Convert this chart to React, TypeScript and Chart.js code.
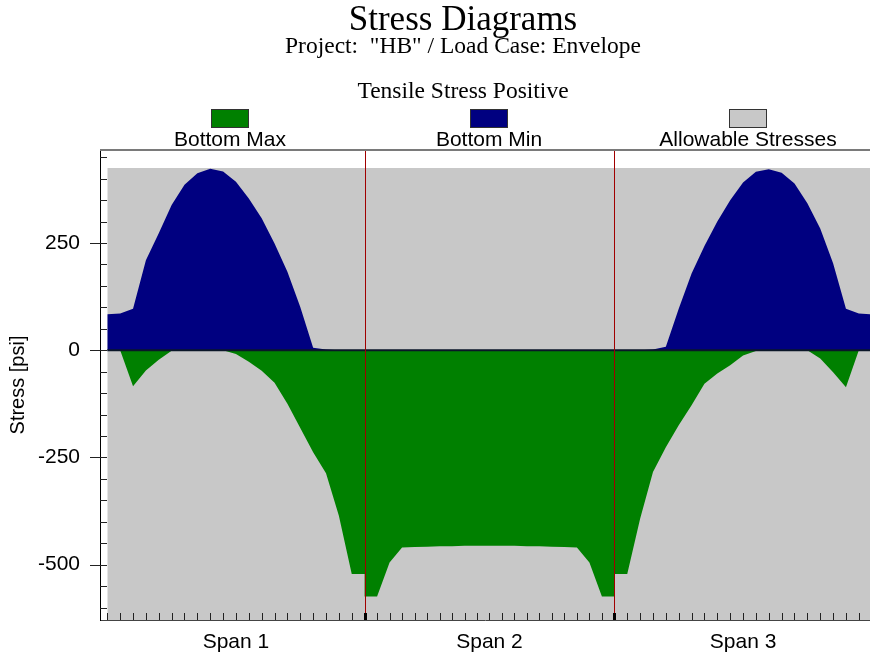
import React, { useEffect, useRef } from 'react';
import { Chart, registerables } from 'chart.js';

Chart.register(...registerables);

const TITLE = 'Stress Diagrams';
const SUBTITLE = 'Project:  "HB" / Load Case: Envelope';
const NOTE = 'Tensile Stress Positive';
const Y_TITLE = 'Stress [psi]';
const SPAN_LABELS = ['Span 1', 'Span 2', 'Span 3'];
const SPAN_LENGTHS = [41.2, 40, 41.2];
const Y_TICKS = [-500, -250, 0, 250];
const Y_MIN = -629;
const Y_MAX = 467;
const X_MIN = -1.17;
const X_MAX = 122.13;
const ALLOWABLE_TENSION = 425;

const LEGEND_LABELS = ['Bottom Max', 'Bottom Min', 'Allowable Stresses'];

// Bottom Max (green), 21 stations per span
const BOTTOM_MAX_SPAN1 = [0, 0, -84, -47, -22, -1, 0, 0, 0, 0, -9, -27, -48, -76, -125, -181, -238, -287, -386, -522, -522];
const BOTTOM_MAX_SPAN2 = [-574, -574, -495, -460, -459, -458, -457, -457, -456, -456, -456, -456, -456, -457, -457, -458, -459, -460, -495, -574, -574];
const BOTTOM_MAX_SPAN3 = [-522, -522, -393, -284, -226, -175, -128, -78, -54, -35, -12, -2, 0, 0, 0, 0, -19, -51, -86, 0, 0];

// Bottom Min (navy)
const BOTTOM_MIN_SPAN1 = [84, 86, 97, 210, 273, 339, 386, 413, 423, 417, 393, 354, 308, 249, 183, 101, 6, 2, 0, 0, 0];
const BOTTOM_MIN_SPAN2 = [0, 0, 0, 0, 0, 0, 0, 0, 0, 0, 0, 0, 0, 0, 0, 0, 0, 0, 0, 0, 0];
const BOTTOM_MIN_SPAN3 = [0, 0, 0, 2, 8, 97, 179, 243, 300, 350, 391, 416, 422, 414, 389, 343, 284, 203, 97, 86, 84];

const COLORS = {
  max: '#008000',
  min: '#000080',
  allow: '#c8c8c8',
};

const SANS = '"Liberation Sans", Arial, Helvetica, sans-serif';
const SERIF = '"Liberation Serif", "Times New Roman", Times, serif';

function spanOffsets(): number[] {
  const out: number[] = [];
  let acc = 0;
  for (const L of SPAN_LENGTHS) {
    out.push(acc);
    acc += L;
  }
  return out;
}

function buildPoints(spans: number[][]) {
  const offs = spanOffsets();
  const pts: { x: number; y: number }[] = [];
  spans.forEach((vals, s) => {
    const n = vals.length - 1;
    vals.forEach((v, i) => {
      pts.push({ x: offs[s] + (SPAN_LENGTHS[s] * i) / n, y: v });
    });
  });
  return pts;
}

const decor = {
  id: 'decor',
  afterDatasetsDraw(chart: any) {
    const { ctx, chartArea, scales } = chart;
    const xs = scales.x;
    const ys = scales.y;
    const total = SPAN_LENGTHS.reduce((a, b) => a + b, 0);
    ctx.save();
    // zero line
    const y0 = ys.getPixelForValue(0);
    ctx.strokeStyle = '#0a1628';
    ctx.lineWidth = 2;
    ctx.beginPath();
    ctx.moveTo(xs.getPixelForValue(0), y0);
    ctx.lineTo(Math.min(chartArea.right, xs.getPixelForValue(total)), y0);
    ctx.stroke();
    // span boundary lines
    const offs = spanOffsets();
    ctx.strokeStyle = '#a00000';
    ctx.lineWidth = 1;
    offs.slice(1).forEach((o) => {
      const px = Math.round(xs.getPixelForValue(o)) + 0.5;
      ctx.beginPath();
      ctx.moveTo(px, chartArea.top);
      ctx.lineTo(px, chartArea.bottom);
      ctx.stroke();
    });
    ctx.restore();
  },
  afterDraw(chart: any) {
    const { ctx, chartArea, scales } = chart;
    const xs = scales.x;
    const ys = scales.y;
    ctx.save();
    // top frame
    ctx.strokeStyle = '#7a7a7a';
    ctx.lineWidth = 2;
    ctx.beginPath();
    ctx.moveTo(chartArea.left, chartArea.top);
    ctx.lineTo(chartArea.right, chartArea.top);
    ctx.stroke();

    // y tick marks
    ctx.strokeStyle = '#222';
    ctx.lineWidth = 1;
    for (let v = -600; v <= 450; v += 50) {
      const y = Math.round(ys.getPixelForValue(v)) + 0.5;
      const major = v % 250 === 0;
      ctx.beginPath();
      ctx.moveTo(chartArea.left - (major ? 10 : 0), y);
      ctx.lineTo(chartArea.left + 7, y);
      ctx.stroke();
    }

    // x tick marks
    const offs = spanOffsets();
    SPAN_LENGTHS.forEach((L, s) => {
      const n = BOTTOM_MAX_SPAN1.length - 1;
      for (let i = 0; i < n; i++) {
        const xv = offs[s] + (L * i) / n;
        const px = xs.getPixelForValue(xv);
        if (px > chartArea.right) continue;
        const boundary = i === 0 && s > 0;
        ctx.strokeStyle = boundary ? '#000' : '#222';
        ctx.lineWidth = boundary ? 3 : 1;
        const x = Math.round(px) + 0.5;
        ctx.beginPath();
        ctx.moveTo(x, chartArea.bottom);
        ctx.lineTo(x, chartArea.bottom - 7);
        ctx.stroke();
      }
    });

    // titles
    const cx = 463;
    ctx.fillStyle = '#000';
    ctx.textAlign = 'center';
    ctx.textBaseline = 'alphabetic';
    ctx.font = `35px ${SERIF}`;
    ctx.fillText(TITLE, cx, 30);
    ctx.font = `23.5px ${SERIF}`;
    ctx.fillText(SUBTITLE, cx, 53);
    ctx.fillText(NOTE, cx, 98);

    // legend
    const legendX = [230, 489, 748];
    const datasets = chart.data.datasets;
    [0, 1, 2].forEach((di, k) => {
      const ds = datasets[di];
      const lx = legendX[k];
      ctx.fillStyle = ds.backgroundColor;
      ctx.fillRect(lx - 19, 109, 38, 19);
      ctx.strokeStyle = '#333';
      ctx.lineWidth = 1;
      ctx.strokeRect(lx - 19 + 0.5, 109.5, 37, 18);
      ctx.fillStyle = '#000';
      ctx.font = `21px ${SANS}`;
      ctx.fillText(LEGEND_LABELS[k], lx, 146);
    });
    ctx.restore();
  },
};

export default function App() {
  const ref = useRef<HTMLCanvasElement>(null);
  useEffect(() => {
    const canvas = ref.current;
    if (!canvas) return;
    const offs = spanOffsets();
    const total = SPAN_LENGTHS.reduce((a, b) => a + b, 0);
    const spanCenters = SPAN_LENGTHS.map((L, i) => offs[i] + L / 2);

    const chart = new Chart(canvas, {
      type: 'line',
      data: {
        datasets: [
          {
            label: LEGEND_LABELS[0],
            data: buildPoints([BOTTOM_MAX_SPAN1, BOTTOM_MAX_SPAN2, BOTTOM_MAX_SPAN3]),
            backgroundColor: COLORS.max,
            borderColor: 'rgba(0,0,0,0)',
            borderWidth: 1,
            fill: 'origin',
            pointRadius: 0,
            order: 2,
          },
          {
            label: LEGEND_LABELS[1],
            data: buildPoints([BOTTOM_MIN_SPAN1, BOTTOM_MIN_SPAN2, BOTTOM_MIN_SPAN3]),
            backgroundColor: COLORS.min,
            borderColor: 'rgba(0,0,0,0)',
            borderWidth: 1,
            fill: 'origin',
            pointRadius: 0,
            order: 1,
          },
          {
            label: LEGEND_LABELS[2],
            data: [
              { x: 0, y: ALLOWABLE_TENSION },
              { x: total, y: ALLOWABLE_TENSION },
            ],
            backgroundColor: COLORS.allow,
            borderColor: 'rgba(0,0,0,0)',
            borderWidth: 1,
            fill: 'start',
            pointRadius: 0,
            order: 3,
          },
        ],
      },
      options: {
        responsive: false,
        animation: false,
        devicePixelRatio: 1,
        layout: { padding: { top: 150, left: 0, right: 0, bottom: 0 } },
        plugins: {
          legend: { display: false },
          title: { display: false },
          tooltip: { enabled: false },
        },
        elements: { line: { tension: 0 }, point: { radius: 0 } },
        scales: {
          x: {
            type: 'linear',
            min: X_MIN,
            max: X_MAX,
            grid: { display: false, drawTicks: false },
            border: { display: true, color: '#444', width: 1 },
            ticks: {
              padding: 10,
              color: '#000',
              font: { family: SANS, size: 21 },
              autoSkip: false,
              maxRotation: 0,
              callback: (value: any) => {
                const idx = spanCenters.findIndex((c) => Math.abs(c - Number(value)) < 1e-6);
                return idx >= 0 ? SPAN_LABELS[idx] : '';
              },
            },
            afterBuildTicks: (scale: any) => {
              scale.ticks = spanCenters.map((v) => ({ value: v }));
            },
            afterFit: (scale: any) => {
              scale.height = 40;
            },
          },
          y: {
            type: 'linear',
            min: Y_MIN,
            max: Y_MAX,
            grid: { display: false, drawTicks: false },
            border: { display: true, color: '#000', width: 1 },
            ticks: {
              padding: 20,
              color: '#000',
              font: { family: SANS, size: 21 },
              callback: (value: any) => String(value),
            },
            title: {
              display: true,
              text: Y_TITLE,
              color: '#000',
              font: { family: SANS, size: 20 },
              padding: { top: 6, bottom: 0 },
            },
            afterBuildTicks: (scale: any) => {
              scale.ticks = Y_TICKS.map((v) => ({ value: v }));
            },
            afterFit: (scale: any) => {
              scale.width = 100;
            },
          },
        },
      },
      plugins: [decor],
    } as any);
    return () => chart.destroy();
  }, []);

  return (
    <canvas
      ref={ref}
      width={870}
      height={660}
      style={{ position: 'absolute', left: 0, top: 0, width: 870, height: 660 }}
    />
  );
}
